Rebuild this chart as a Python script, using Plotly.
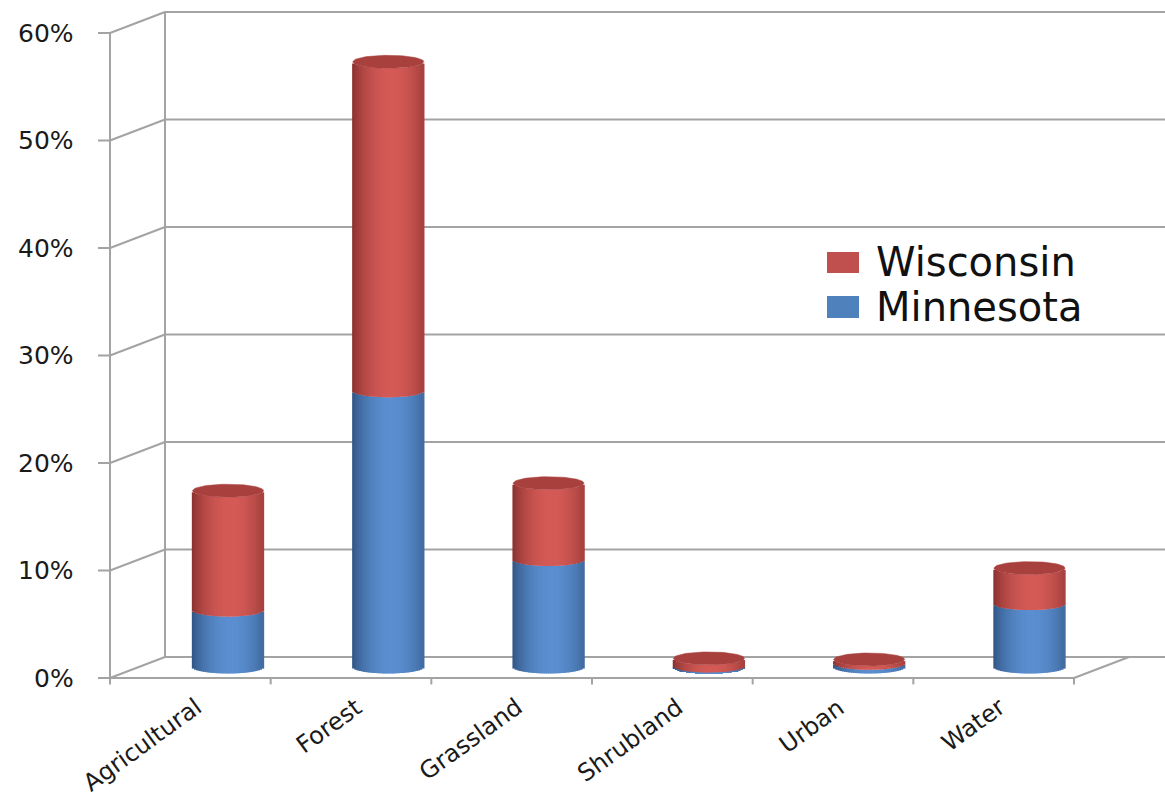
import numpy as np
import plotly.graph_objects as go

# ---------------- data ----------------
categories = ["Agricultural", "Forest", "Grassland", "Shrubland", "Urban", "Water"]
minnesota = [5.3, 25.7, 10.0, 0.1, 0.35, 5.9]     # % (bottom segment)
wisconsin = [11.1, 30.6, 7.1, 0.7, 0.35, 3.3]     # % (top segment)
y_ticks = [0, 10, 20, 30, 40, 50, 60]
y_tick_labels = ["0%", "10%", "20%", "30%", "40%", "50%", "60%"]

# ---------------- geometry / style ----------------
W, H = 1165, 797
PX_X, PX_Y = 160.3, 10.75          # pixels per data unit
X0_PX, Y0_PX = 228, 667            # pixel of category 0 / value 0 (bar depth)
x_range = [-X0_PX / PX_X, (W - X0_PX) / PX_X]
y_range = [-(H - Y0_PX) / PX_Y, Y0_PX / PX_Y]

XF = (110 - X0_PX) / PX_X          # front-left corner
XB = (165 - X0_PX) / PX_X          # back-left corner
XFR = (1074 - X0_PX) / PX_X        # front-right corner
DXD = XB - XF                      # depth shift in x
DYF = -11 / PX_Y                   # front plane y-shift
DYB = 10 / PX_Y                    # back wall y-shift
HW = 35.5 / PX_X                   # cylinder half width
RY = 6.5 / PX_Y                    # ellipse half height
GRID = "#A3A3A3"
FONT = "DejaVu Sans"

RED_DARK, RED_LIGHT = np.array([128, 44, 42]), np.array([212, 90, 86])
BLUE_DARK, BLUE_LIGHT = np.array([44, 78, 122]), np.array([90, 142, 208])
RED_CAP = "#A8413E"


def shade(u, dark, light):
    t = max(0.0, np.cos((u - 0.1) / 1.12 * np.pi / 2)) ** 0.7
    c = dark + (light - dark) * t
    return "rgb(%d,%d,%d)" % tuple(int(round(v)) for v in c)


fig = go.Figure()
xs = list(range(len(categories)))
mn = np.array(minnesota, dtype=float)
wi = np.array(wisconsin, dtype=float)

# cylinder bodies built from thin vertical strips (shaded)
N = 32
for series_vals, series_base, dark, light in [
    (mn, np.zeros_like(mn), BLUE_DARK, BLUE_LIGHT),
    (wi, mn, RED_DARK, RED_LIGHT),
]:
    for k in range(N):
        u = -1 + (2 * k + 1) / N
        dip = RY * np.sqrt(max(0.0, 1 - u * u))
        sw = 2 * HW / N
        fig.add_trace(go.Bar(
            x=xs, y=series_vals, base=series_base - dip,
            width=sw * 1.6, offset=u * HW - sw * 0.8,
            marker=dict(color=shade(u, dark, light), line=dict(width=0)),
            showlegend=False, hoverinfo="skip",
        ))

# top caps (ellipses)
t = np.linspace(0, 2 * np.pi, 80)
for i in xs:
    top = mn[i] + wi[i]
    fig.add_trace(go.Scatter(
        x=i + HW * np.cos(t), y=top + RY * np.sin(t),
        mode="lines", fill="toself", fillcolor=RED_CAP,
        line=dict(color=RED_CAP, width=0.5),
        showlegend=False, hoverinfo="skip",
    ))

# walls, floor, gridlines
shapes = []


def seg(x0, y0, x1, y1):
    shapes.append(dict(type="line", xref="x", yref="y", x0=x0, y0=y0, x1=x1, y1=y1,
                       line=dict(color=GRID, width=2), layer="below"))


ymax = max(y_ticks)
for v in y_ticks:
    seg(XF, v + DYF, XB, v + DYB)               # side wall diagonal
    seg(XB, v + DYB, x_range[1] + 1, v + DYB)   # back wall gridline
    seg(XF - 0.075, v + DYF, XF, v + DYF)        # y tick
seg(XF, DYF, XF, ymax + DYF)                    # front vertical axis
seg(XB, DYB, XB, ymax + DYB)                    # back vertical edge
seg(XF, DYF, XFR, DYF)                          # floor front edge
seg(XFR, DYF, XFR + DXD, DYB)                   # floor right edge
step = (XFR - XF) / len(categories)
for k in range(len(categories) + 1):
    seg(XF + k * step, DYF, XF + k * step, DYF - 0.6)

# legend (squares as paper shapes)
legend_items = [("Wisconsin", "#C0504D", 252, 273), ("Minnesota", "#4F81BD", 296, 318)]
annotations = []
for name, col, y0, y1 in legend_items:
    shapes.append(dict(type="rect", xref="paper", yref="paper",
                       x0=827 / W, x1=859 / W, y0=1 - y1 / H, y1=1 - y0 / H,
                       fillcolor=col, line=dict(width=0)))
    annotations.append(dict(x=874 / W, y=1 - (y0 + y1) / 2 / H, xref="paper", yref="paper",
                            text=name, showarrow=False, xanchor="left", yanchor="middle",
                            font=dict(family=FONT, size=40, color="#111111")))

# y tick labels
for v, lab in zip(y_ticks, y_tick_labels):
    annotations.append(dict(x=(76 - X0_PX) / PX_X, y=v + DYF, xref="x", yref="y",
                            text=lab, showarrow=False, xanchor="right", yanchor="middle",
                            font=dict(family=FONT, size=25, color="#1a1a1a")))

# category labels
for k, c in enumerate(categories):
    annotations.append(dict(x=XF + (k + 0.5) * step + 0.12, y=(Y0_PX - 690) / PX_Y,
                            xref="x", yref="y", text=c, showarrow=False, textangle=-36,
                            xanchor="right", yanchor="top",
                            font=dict(family=FONT, size=24, color="#1a1a1a")))

fig.update_layout(
    width=W, height=H, margin=dict(l=0, r=0, t=0, b=0),
    paper_bgcolor="white", plot_bgcolor="white",
    barmode="overlay", showlegend=False,
    xaxis=dict(range=x_range, visible=False, fixedrange=True),
    yaxis=dict(range=y_range, visible=False, fixedrange=True),
    shapes=shapes, annotations=annotations,
)

fig.write_html("out.html")
